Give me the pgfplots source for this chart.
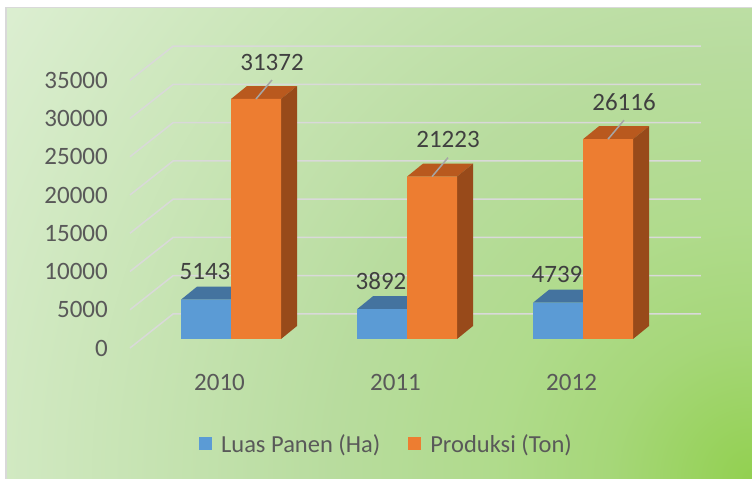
\documentclass[border=0pt]{standalone}
\usepackage{pgfplots}
\pgfplotsset{compat=1.18}
\usepackage{pgfplotstable}
\usepackage{fontspec}
\setmainfont{Carlito}
\definecolor{bfront}{HTML}{5B9BD5}
\definecolor{btop}{HTML}{44739F}
\definecolor{ofront}{HTML}{ED7D31}
\definecolor{otop}{HTML}{B9591E}
\definecolor{oside}{HTML}{984A1A}
\definecolor{gridc}{HTML}{D9D9D9}
\definecolor{tickc}{HTML}{595959}
\definecolor{labc}{HTML}{404040}
\definecolor{bg0}{HTML}{92D050}
\definecolor{bg1}{HTML}{A6D779}
\definecolor{bg2}{HTML}{B0DB8C}
\definecolor{bg3}{HTML}{B8DC9E}
\definecolor{bg4}{HTML}{DDEFD3}
\pgfdeclareradialshading{bgshade}{\pgfpoint{0bp}{0bp}}{color(0bp)=(bg0); color(4bp)=(bg1); color(7.2bp)=(bg2); color(11.7bp)=(bg3); color(25bp)=(bg4); color(50bp)=(bg4)}
\newcommand{\bigfont}{\fontsize{25bp}{29bp}\selectfont}
\newcommand{\legfont}{\fontsize{24.5bp}{29bp}\selectfont}
\newcommand{\fpcalc}[2]{\begingroup\pgfkeys{/pgf/fpu=true,/pgf/fpu/output format=fixed}\pgfmathparse{#2}\xdef#1{\pgfmathresult}\endgroup}
\pgfplotsset{sq legend/.style={legend image code/.code={\fill[##1] (0bp,-6.5bp) rectangle (13bp,6.5bp);}}}

\pgfplotstableread{
x luas prod
0 5143 31372
1 3892 21223
2 4739 26116
}\datatable

\begin{document}
\begin{tikzpicture}
\useasboundingbox (0,0) rectangle (752bp,479bp);
\fill[white] (0,0) rectangle (752bp,479bp);
\begin{scope}
\clip (7bp,0) rectangle (752bp,471bp);
\shade[shading=bgshade] (752bp,0) circle[radius=900bp];
\end{scope}
\draw[black!15, line width=1.5bp] (6bp,0) -- (6bp,471.5bp) -- (752bp,471.5bp);
\begin{axis}[
  at={(0,0)}, anchor=south west,
  scale only axis, width=752bp, height=479bp,
  xmin=-1.3125, xmax=2.96023, ymin=-18300.65, ymax=44313.7,
  clip=false, scaled ticks=false,
  axis line style={draw=none},
  major tick length=0pt,
  ytick={-1176,3824,8824,13824,18824,23824,28824,33824},
  yticklabels={0,5000,10000,15000,20000,25000,30000,35000},
  yticklabel style={anchor=east, inner sep=0pt, xshift=108bp, font=\bigfont, text=tickc},
  xtick={-0.065,0.935,1.935},
  xticklabels={2010,2011,2012},
  xticklabel style={anchor=center, inner sep=0pt, yshift=97bp, font=\bigfont, text=tickc},
  legend columns=2,
  legend style={at={(rel axis cs:0.5126,0.0731)}, anchor=center, draw=none, fill=none,
    font=\legfont, text=tickc, nodes={inner sep=0pt},
    /tikz/every odd column/.append style={column sep=9bp},
    /tikz/every even column/.append style={column sep=28bp}},
  legend cell align=left,
]
% gridlines
\draw[gridc, line width=1.5bp] (axis cs:-0.574,-1176) -- (axis cs:-0.3295,3268) -- (axis cs:2.670,3268);
\draw[gridc, line width=1.5bp] (axis cs:-0.574,3824) -- (axis cs:-0.3295,8268) -- (axis cs:2.670,8268);
\draw[gridc, line width=1.5bp] (axis cs:-0.574,8824) -- (axis cs:-0.3295,13268) -- (axis cs:2.670,13268);
\draw[gridc, line width=1.5bp] (axis cs:-0.574,13824) -- (axis cs:-0.3295,18268) -- (axis cs:2.670,18268);
\draw[gridc, line width=1.5bp] (axis cs:-0.574,18824) -- (axis cs:-0.3295,23268) -- (axis cs:2.670,23268);
\draw[gridc, line width=1.5bp] (axis cs:-0.574,23824) -- (axis cs:-0.3295,28268) -- (axis cs:2.670,28268);
\draw[gridc, line width=1.5bp] (axis cs:-0.574,28824) -- (axis cs:-0.3295,33268) -- (axis cs:2.670,33268);
\draw[gridc, line width=1.5bp] (axis cs:-0.574,33824) -- (axis cs:-0.3295,38268) -- (axis cs:2.670,38268);

% blue top faces
\pgfplotsinvokeforeach{0,1,2}{
  \pgfplotstablegetelem{#1}{luas}\of\datatable
  \fpcalc{\va}{\pgfplotsretval}
  \fpcalc{\vb}{\pgfplotsretval+1699}
  \pgfmathsetmacro{\xa}{#1-0.2841}
  \pgfmathsetmacro{\xb}{#1}
  \pgfmathsetmacro{\xc}{#1+0.0909}
  \pgfmathsetmacro{\xd}{#1-0.2841+0.0909}
  \addplot[fill=btop, draw=none, forget plot] coordinates {(\xa,\va) (\xb,\va) (\xc,\vb) (\xd,\vb)} -- cycle;
}
\addplot[ybar, bar width=0.2841, bar shift=-0.14205, fill=bfront, draw=none, sq legend,
  nodes near coords, point meta=explicit symbolic,
  every node near coord/.append style={font=\bigfont, text=labc, anchor=center, xshift=-26bp, yshift=28bp}]
  table[x=x, y=luas, meta=luas] {\datatable};
\addlegendentry{Luas Panen (Ha)}

% orange top and side faces
\pgfplotsinvokeforeach{0,1,2}{
  \pgfplotstablegetelem{#1}{prod}\of\datatable
  \fpcalc{\va}{\pgfplotsretval}
  \fpcalc{\vb}{\pgfplotsretval+1699}
  \pgfmathsetmacro{\xa}{#1}
  \pgfmathsetmacro{\xb}{#1+0.2841}
  \pgfmathsetmacro{\xc}{#1+0.2841+0.0909}
  \pgfmathsetmacro{\xd}{#1+0.0909}
  \addplot[fill=otop, draw=none, forget plot] coordinates {(\xa,\va) (\xb,\va) (\xc,\vb) (\xd,\vb)} -- cycle;
  \addplot[fill=oside, draw=none, forget plot] coordinates {(\xb,0) (\xb,\va) (\xc,\vb) (\xc,1699)} -- cycle;
}
\addplot[ybar, bar width=0.2841, bar shift=0.14205, fill=ofront, draw=none, sq legend,
  nodes near coords, point meta=explicit symbolic,
  every node near coord/.append style={font=\bigfont, text=labc, anchor=center, xshift=41bp, yshift=37bp}]
  table[x=x, y=prod, meta=prod] {\datatable};
\addlegendentry{Produksi (Ton)}

% leader lines
\pgfplotsinvokeforeach{0,1,2}{
  \pgfplotstablegetelem{#1}{prod}\of\datatable
  \fpcalc{\va}{\pgfplotsretval}
  \fpcalc{\vb}{\pgfplotsretval+2484}
  \pgfmathsetmacro{\xa}{#1+0.142}
  \pgfmathsetmacro{\xb}{#1+0.142+0.0909}
  \addplot[draw=black!35, line width=1.5bp, forget plot] coordinates {(\xa,\va) (\xb,\vb)};
}
\end{axis}
\end{tikzpicture}
\end{document}
